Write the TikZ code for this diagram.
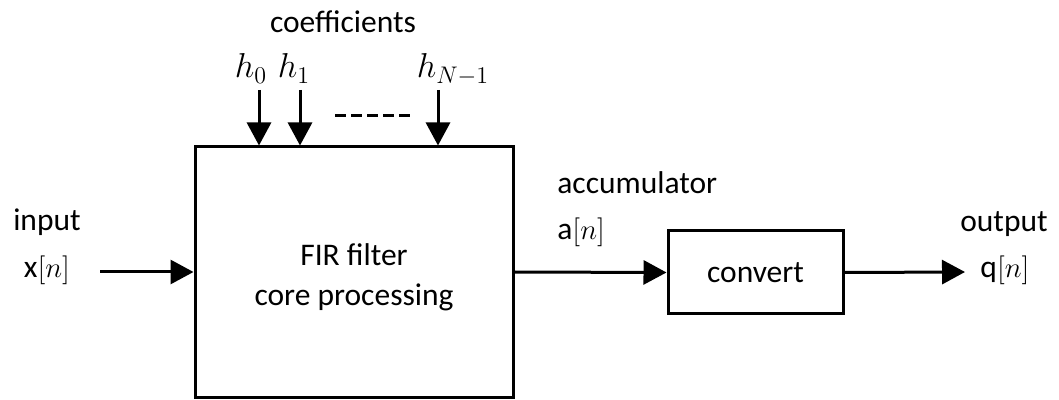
\documentclass[tikz,border=0pt]{standalone}
\usepackage{fontspec}
\setmainfont{Carlito}
\usetikzlibrary{arrows.meta,positioning}

\begin{document}
\begin{tikzpicture}[x=0.5pt, y=-0.5pt,
    blk/.style={draw, line width=1.5pt, inner sep=0pt, align=center, font=\fontsize{15.75}{20}\selectfont},
    arr/.style={-{Triangle[length=11.5pt, width=12pt]}, line width=1.5pt},
    lbl/.style={inner sep=0pt, anchor=base, font=\fontsize{15.75}{20}\selectfont},
    coeff/.style={lbl, font=\fontsize{17.5}{20}\selectfont}
]
\useasboundingbox (0,0) rectangle (1059,400);

% blocks
\node[blk, minimum width=159pt, minimum height=125pt] (fir) at (354,272) {};
\node[lbl, align=center, anchor=center] (firtxt) at (354,277) {FIR filter\\core processing};
\node[blk, minimum width=87.5pt, minimum height=41.5pt] (conv) at (755.5,272.5) {convert};

% labels
\node[lbl] (coef) at (343,33) {coefficients};
\node[coeff] (h0) at (251,78) {$h_0$};
\node[coeff] (h1) at (294,78) {$h_1$};
\node[coeff] (hN) at (453,78) {$h_{N-1}$};
\node[lbl] (inp) at (47,231) {input};
\node[lbl] (xn) at (47,278) {x$[n]$};
\node[lbl, anchor=base west] (acc) at (557,194) {accumulator};
\node[lbl, anchor=base west] (an) at (557,240) {a$[n]$};
\node[lbl] (outp) at (1004,232) {output};
\node[lbl] (qn) at (1005,278) {q$[n]$};

% arrow ends
\coordinate (t0) at (259,90);
\coordinate (t1) at (300,90);
\coordinate (tN) at (438,90);
\coordinate (xin) at (100,272);
\coordinate (qout) at (965,272);

\draw[arr] (t0) -- (t0 |- fir.north);
\draw[arr] (t1) -- (t1 |- fir.north);
\draw[arr] (tN) -- (tN |- fir.north);
\draw[line width=1.5pt, dash pattern=on 5.5pt off 2.5pt] (335,116) -- (410,116);

\draw[arr] (xin) -- (fir.west);
\draw[arr] (fir.east) -- (conv.west);
\draw[arr] (conv.east) -- (qout);
\end{tikzpicture}
\end{document}
